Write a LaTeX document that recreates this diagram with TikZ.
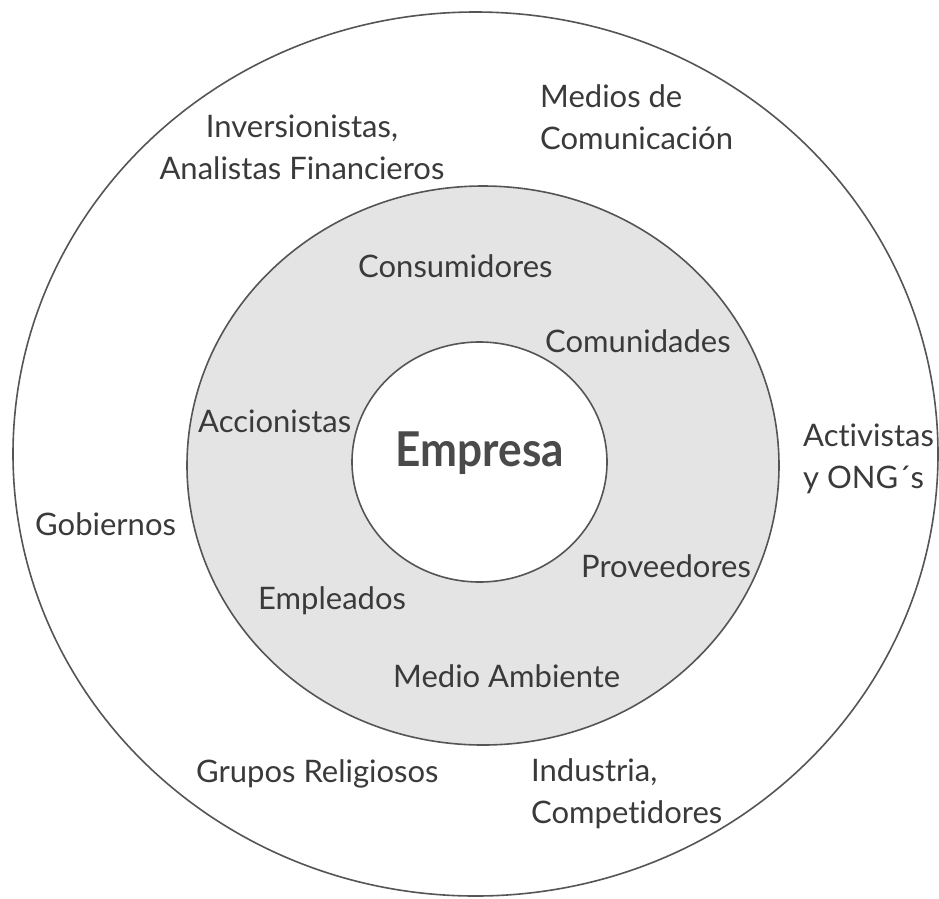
\documentclass[tikz,border=0pt]{standalone}
\usepackage{fontspec}
\setmainfont{Lato}[Ligatures=NoCommon]
\definecolor{ringline}{HTML}{555555}
\definecolor{ringfill}{HTML}{E4E4E4}
\definecolor{labeltext}{HTML}{3A3A3A}
\definecolor{coretext}{HTML}{4A4A4A}
\begin{document}
\begin{tikzpicture}[x=1pt,y=-1pt,
  ring/.style={draw=ringline,line width=1.6pt},
  lbl/.style={inner sep=0pt,text=labeltext,font=\fontsize{31}{42}\selectfont},
  core/.style={inner sep=0pt,text=coretext,font=\fontsize{48}{50}\selectfont\bfseries}]
\useasboundingbox (0,0) rectangle (939,898);
\fill[white] (0,0) rectangle (939,898);
% rings
\draw[ring,fill=white] (475.5,454) ellipse [x radius=462.5, y radius=442];
\draw[ring,fill=ringfill] (483,465.5) ellipse [x radius=296, y radius=279.5];
\draw[ring,fill=white] (479.5,462) ellipse [x radius=127.5, y radius=120];
% core
\node[core,anchor=base] (empresa) at (480,466) {\scalebox{0.92}[1]{Empresa}};
% middle ring labels
\node[lbl,anchor=base west] (consumidores) at (358,277) {Consumidores};
\node[lbl,anchor=base west] (comunidades) at (545,352) {Comunidades};
\node[lbl,anchor=base west] (accionistas) at (198,432) {Accionistas};
\node[lbl,anchor=base west] (proveedores) at (581,577) {Proveedores};
\node[lbl,anchor=base west] (empleados) at (258,609) {Empleados};
\node[lbl,anchor=base west] (medioamb) at (393,687) {Medio Ambiente};
% outer ring labels
\node[lbl,anchor=north,align=center] (inversionistas) at (302,115) {Inversionistas,\\Analistas Financieros};
\node[lbl,anchor=north west,align=left] (medios) at (540,84) {Medios de\\Comunicación};
\node[lbl,anchor=north west,align=left] (activistas) at (803,424) {Activistas\\y ONG´s};
\node[lbl,anchor=base west] (gobiernos) at (35,535) {Gobiernos};
\node[lbl,anchor=base west] (grupos) at (196,782) {Grupos Religiosos};
\node[lbl,anchor=north west,align=left] (industria) at (531,758) {Industria,\\Competidores};
\end{tikzpicture}
\end{document}
